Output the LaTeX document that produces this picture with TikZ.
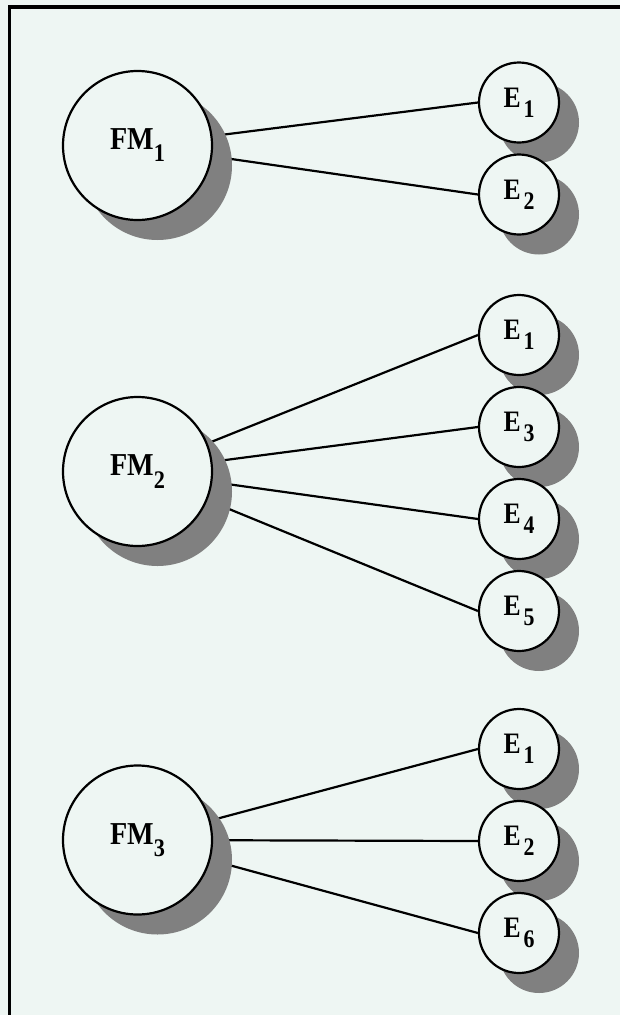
\documentclass[tikz,border=0pt]{standalone}
\usepackage{fontspec}
\setmainfont{Liberation Serif}
\usetikzlibrary{shadows}
\pgfdeclarelayer{canvas}
\pgfdeclarelayer{background}
\pgfsetlayers{canvas,background,main}
\definecolor{paper}{RGB}{238,246,243}
\definecolor{shade}{RGB}{128,128,128}
% label with a large, lowered index, set slightly tall
\newcommand\fmlab[1]{\scalebox{0.97}[1.1]{\fontsize{29}{29}\selectfont\bfseries FM\raisebox{-11pt}{\fontsize{23}{23}\selectfont #1}}}
\newcommand\elab[1]{\scalebox{0.95}[1.1]{\fontsize{27}{27}\selectfont\bfseries E\hspace{3pt}\raisebox{-9pt}{\fontsize{23}{23}\selectfont #1}}}
\tikzset{
  ball/.style={circle, draw=black, line width=2.2pt, fill=paper, inner sep=0pt,
    drop shadow={shadow xshift=20pt, shadow yshift=-20pt, fill=shade, opacity=1}},
  fmball/.style={ball, minimum size=149pt},
  eball/.style={ball, minimum size=80pt},
  link/.style={line width=2.2pt, black}
}
\begin{document}
\begin{tikzpicture}[x=1pt, y=-1pt]
  \useasboundingbox (0,0) rectangle (620,1015);
  \begin{pgfonlayer}{canvas}
    \fill[paper] (0,0) rectangle (620,1015);
    \fill[black] (8,5) rectangle (620,9);
    \fill[black] (8,5) rectangle (11,1015);
  \end{pgfonlayer}

  % first group
  \node[fmball] (fa) at (137.5,145.5) {\fmlab{1}};
  \node[eball] (a1) at (519,102.5) {\elab{1}};
  \node[eball] (a2) at (519,194.5) {\elab{2}};

  % second group
  \node[fmball] (fb) at (137.5,471.5) {\fmlab{2}};
  \node[eball] (b1) at (519,335) {\elab{1}};
  \node[eball] (b3) at (519,427) {\elab{3}};
  \node[eball] (b4) at (519,519) {\elab{4}};
  \node[eball] (b5) at (519,611) {\elab{5}};

  % third group
  \node[fmball] (fc) at (137.5,840) {\fmlab{3}};
  \node[eball] (c1) at (519,749) {\elab{1}};
  \node[eball] (c2) at (519,841) {\elab{2}};
  \node[eball] (c6) at (519,933) {\elab{6}};

  % connectors run under the shadows
  \begin{pgfonlayer}{background}
    \foreach \e in {a1,a2} \draw[link] (fa.center) -- (\e.west);
    \foreach \e in {b1,b3,b4,b5} \draw[link] (fb.center) -- (\e.west);
    \foreach \e in {c1,c2,c6} \draw[link] (fc.center) -- (\e.west);
  \end{pgfonlayer}
\end{tikzpicture}
\end{document}
